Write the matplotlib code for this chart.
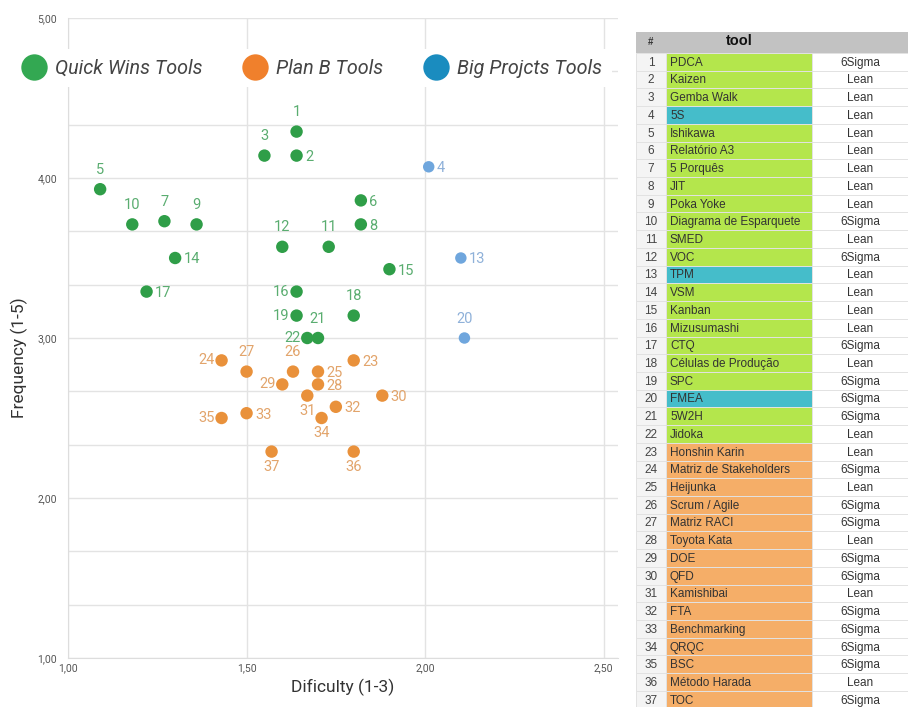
"""Difficulty vs frequency scatter of lean / six sigma tools, with the tool table."""

import matplotlib

matplotlib.use("Agg")
import matplotlib.pyplot as plt
from matplotlib.lines import Line2D
from matplotlib.patches import Rectangle
from matplotlib.ticker import FuncFormatter, MultipleLocator

TOOL_ID = list(range(1, 38))
TOOL_NAME = [
    "PDCA", "Kaizen", "Gemba Walk", "5S", "Ishikawa", "Relatório A3",
    "5 Porquês", "JIT", "Poka Yoke", "Diagrama de Esparquete", "SMED", "VOC",
    "TPM", "VSM", "Kanban", "Mizusumashi", "CTQ", "Células de Produção",
    "SPC", "FMEA", "5W2H", "Jidoka", "Honshin Karin", "Matriz de Stakeholders",
    "Heijunka", "Scrum / Agile", "Matriz RACI", "Toyota Kata", "DOE", "QFD",
    "Kamishibai", "FTA", "Benchmarking", "QRQC", "BSC", "Método Harada", "TOC",
]
METHOD = [
    "6Sigma", "Lean", "Lean", "Lean", "Lean", "Lean", "Lean", "Lean", "Lean",
    "6Sigma", "Lean", "6Sigma", "Lean", "Lean", "Lean", "Lean", "6Sigma",
    "Lean", "6Sigma", "6Sigma", "6Sigma", "Lean", "Lean", "6Sigma", "Lean",
    "6Sigma", "6Sigma", "Lean", "6Sigma", "6Sigma", "Lean", "6Sigma", "6Sigma",
    "6Sigma", "6Sigma", "Lean", "6Sigma",
]
DIFFICULTY = [
    1.64, 1.64, 1.55, 2.01, 1.09, 1.82, 1.27, 1.82, 1.36, 1.18, 1.73, 1.60,
    2.10, 1.30, 1.90, 1.64, 1.22, 1.80, 1.64, 2.11, 1.70, 1.67, 1.80, 1.43,
    1.70, 1.63, 1.50, 1.70, 1.60, 1.88, 1.67, 1.75, 1.50, 1.71, 1.43, 1.80,
    1.57,
]
FREQUENCY = [
    4.29, 4.14, 4.14, 4.07, 3.93, 3.86, 3.73, 3.71, 3.71, 3.71, 3.57, 3.57,
    3.50, 3.50, 3.43, 3.29, 3.29, 3.14, 3.14, 3.00, 3.00, 3.00, 2.86, 2.86,
    2.79, 2.79, 2.79, 2.71, 2.71, 2.64, 2.64, 2.57, 2.53, 2.50, 2.50, 2.29,
    2.29,
]
GROUP = ["quick"] * 22 + ["planb"] * 15
for i in (4, 13, 20):
    GROUP[i - 1] = "big"

GROUP_NAMES = {"quick": "Quick Wins Tools", "planb": "Plan B Tools", "big": "Big Projcts Tools"}
POINT_COLORS = {"quick": "#2f9e48", "planb": "#e9913b", "big": "#6fa6dd"}
LEGEND_COLORS = {"quick": "#33a852", "planb": "#f0802c", "big": "#1a8cbf"}
LABEL_COLORS = {"quick": "#5aad70", "planb": "#e2a46b", "big": "#8fb1d9"}
TABLE_COLORS = {"quick": "#b4e64c", "planb": "#f5ae68", "big": "#45bdca"}

# where each point's number sits relative to the dot
LABEL_SIDE = {}
for i in (1, 3, 5, 7, 9, 10, 11, 12, 18, 20, 21, 26, 27):
    LABEL_SIDE[i] = "above"
for i in (16, 19, 22, 24, 29, 35):
    LABEL_SIDE[i] = "left"
for i in (31, 34, 36, 37):
    LABEL_SIDE[i] = "below"
SIDE_STYLE = {
    "above": dict(xytext=(0, 14), ha="center", va="center"),
    "below": dict(xytext=(0, -11), ha="center", va="center"),
    "left": dict(xytext=(-5, 0), ha="right", va="center"),
    "right": dict(xytext=(6, -1), ha="left", va="center"),
}

plt.rcParams["font.family"] = ["Roboto", "DejaVu Sans"]

fig = plt.figure(figsize=(9.09, 7.07), dpi=100)
ax = fig.add_axes([68 / 909, 1 - 658 / 707, 550 / 909, 640 / 707])

for g in ("quick", "planb", "big"):
    xs = [x for x, gg in zip(DIFFICULTY, GROUP) if gg == g]
    ys = [y for y, gg in zip(FREQUENCY, GROUP) if gg == g]
    ax.scatter(xs, ys, s=80 if g != "big" else 68, color=POINT_COLORS[g],
               edgecolors="none", zorder=3)

for tid, x, y, g in zip(TOOL_ID, DIFFICULTY, FREQUENCY, GROUP):
    style = SIDE_STYLE[LABEL_SIDE.get(tid, "right")]
    ax.annotate(str(tid), (x, y), textcoords="offset points", fontsize=10.5,
                color=LABEL_COLORS[g], zorder=4, **style)

ax.set_xlim(1.0, 2.54)
ax.set_ylim(1.0, 5.0)
ax.xaxis.set_major_locator(MultipleLocator(0.5))
ax.yaxis.set_major_locator(MultipleLocator(1.0))
ax.yaxis.set_minor_locator(MultipleLocator(1 / 3))
comma = FuncFormatter(lambda v, _: f"{v:.2f}".replace(".", ","))
ax.xaxis.set_major_formatter(comma)
ax.yaxis.set_major_formatter(comma)
ax.grid(True, which="major", color="#e3e3e3", lw=1.0, zorder=0)
ax.grid(True, which="minor", axis="y", color="#e3e3e3", lw=1.0, zorder=0)
ax.tick_params(which="both", length=0, labelsize=7.5, labelcolor="#555555")
ax.tick_params(axis="x", pad=4)
ax.tick_params(axis="y", pad=8)
for side in ("top", "right"):
    ax.spines[side].set_visible(False)
for side in ("left", "bottom"):
    ax.spines[side].set_color("#dddddd")
ax.set_xlabel("Dificulty (1-3)", fontsize=12.5, color="#333333", labelpad=4)
ax.set_ylabel("Frequency (1-5)", fontsize=12.5, color="#333333")
ax.yaxis.set_label_coords(-0.073, 0.47)

handles = [
    Line2D([], [], ls="none", marker="o", ms=19, color=LEGEND_COLORS[g], mec="none")
    for g in ("quick", "planb", "big")
]
leg = fig.legend(handles, [GROUP_NAMES[g] for g in ("quick", "planb", "big")],
                 loc="center", bbox_to_anchor=(313 / 909, 1 - 68 / 707), ncol=3,
                 frameon=True, facecolor="white", edgecolor="none", framealpha=1,
                 handlelength=1.0, handletextpad=0.55, columnspacing=2.2,
                 borderpad=0.5, prop={"size": 14.2, "style": "italic"})
for t in leg.get_texts():
    t.set_color("#444444")

# table on the right
tab = fig.add_axes([636 / 909, 0, 272 / 909, 675 / 707])
tab.set_xlim(0, 272)
head = 21 / 17.72
tab.set_ylim(675 / 17.72 - head, -head)
tab.axis("off")
cols = [(0, 30), (30, 146), (176, 96)]
tab.add_patch(Rectangle((0, -head), 272, head, facecolor="#c2c2c2", edgecolor="none"))
tab.text(15, -head / 2, "#", ha="center", va="center", fontsize=7,
         fontweight="bold", family="Liberation Sans", color="#333333")
tab.text(103, -head / 2 - 0.1, "tool", ha="center", va="center", fontsize=10.5,
         fontweight="bold", family="Liberation Sans", color="#111111")
for r, (tid, name, meth, g) in enumerate(zip(TOOL_ID, TOOL_NAME, METHOD, GROUP)):
    fills = ["#f4f4f4", TABLE_COLORS[g], "white"]
    for (x0, w), fc in zip(cols, fills):
        tab.add_patch(Rectangle((x0, r), w, 1, facecolor=fc, edgecolor="#e2e2e2", lw=0.7))
    tab.text(15, r + 0.55, str(tid), ha="center", va="center", fontsize=8.5,
             family="Liberation Sans", color="#444444")
    tab.text(34, r + 0.55, name, ha="left", va="center", fontsize=8.5,
             family="Liberation Sans", color="#333333")
    tab.text(224, r + 0.55, meth, ha="center", va="center", fontsize=8.5,
             family="Liberation Sans", color="#333333")

fig.savefig("out.png", dpi=100, facecolor="white")
